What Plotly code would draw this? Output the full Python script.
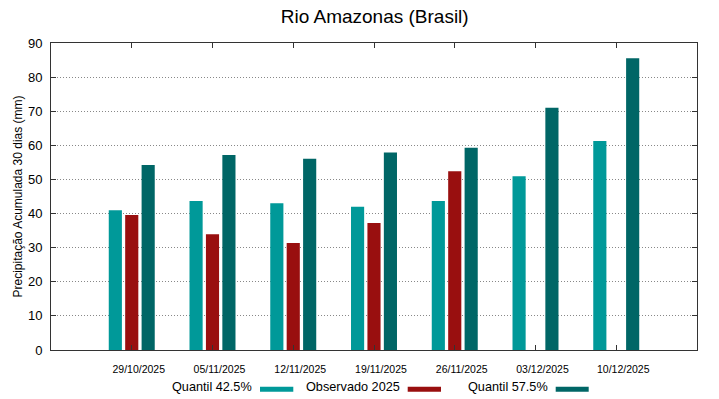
import plotly.graph_objects as go

dates = ["29/10/2025", "05/11/2025", "12/11/2025", "19/11/2025",
         "26/11/2025", "03/12/2025", "10/12/2025"]
q425 = [41.0, 43.7, 43.0, 42.0, 43.7, 50.9, 61.3]
obs2025 = [39.6, 33.9, 31.4, 37.2, 52.4, None, None]
q575 = [54.2, 57.2, 56.1, 57.9, 59.3, 71.0, 85.5]
series_names = ["Quantil 42.5%", "Observado 2025", "Quantil 57.5%"]
colors = ["#009999", "#990f0f", "#006666"]

FONT = "Liberation Sans, Arial, sans-serif"

fig = go.Figure()
for name, vals, col in zip(series_names, [q425, obs2025, q575], colors):
    fig.add_trace(go.Bar(x=dates, y=vals, name=name, marker_color=col,
                         marker_line_width=0, showlegend=False))

fig.update_layout(
    width=719, height=399,
    margin=dict(l=51, r=22, t=43, b=49, autoexpand=False),
    paper_bgcolor="white", plot_bgcolor="white",
    barmode="group", bargap=0.39, bargroupgap=0.2,
    font=dict(family=FONT, color="#000000"),
    title=dict(text="Rio Amazonas (Brasil)", x=374.7 / 719, xanchor="center",
               y=1 - 16.5 / 399, yanchor="middle", font=dict(size=19, family=FONT)),
    xaxis=dict(type="category", range=[-1, 7], showline=True, linecolor="#333333",
               linewidth=1, mirror="ticks", ticks="inside", ticklen=5,
               tickcolor="#333333", showgrid=False, tickfont=dict(size=10.5),
               tickangle=0, ticklabelshift=7, ticklabelstandoff=9),
    yaxis=dict(range=[0, 90], dtick=10, showline=True, linecolor="#333333",
               linewidth=1, mirror="ticks", ticks="inside", ticklen=5,
               tickcolor="#333333", showgrid=True, gridcolor="#888888",
               griddash="1px,2px", gridwidth=1, zeroline=False,
               tickfont=dict(size=13), ticklabelstandoff=5,
               title=dict(text="Precipitação Acumulada 30 dias (mm)",
                          font=dict(size=12), standoff=2)),
)

# Legend (gnuplot style: text then swatch)
legend_items = [
    (252.0, 260.0, 293.3),
    (400.0, 407.7, 441.0),
    (547.7, 555.7, 588.7),
]
pl, pr, pt, pb = 51, 697, 43, 350
for (tx, s0, s1), name, col in zip(legend_items, series_names, colors):
    fig.add_annotation(x=(tx - pl) / (pr - pl), y=(pb - 387) / (pb - pt),
                       xref="paper", yref="paper", text=name, showarrow=False,
                       xanchor="right", yanchor="middle", xshift=2,
                       font=dict(size=12.7, family=FONT))
    fig.add_shape(type="rect", xref="paper", yref="paper",
                  x0=(s0 - pl) / (pr - pl), x1=(s1 - pl) / (pr - pl),
                  y0=(pb - 391.7) / (pb - pt), y1=(pb - 386.7) / (pb - pt),
                  fillcolor=col, line_width=0)

fig.write_html("out.html", config={"displayModeBar": False},
               post_script="document.body.style.margin='0';document.body.style.overflow='hidden';")
